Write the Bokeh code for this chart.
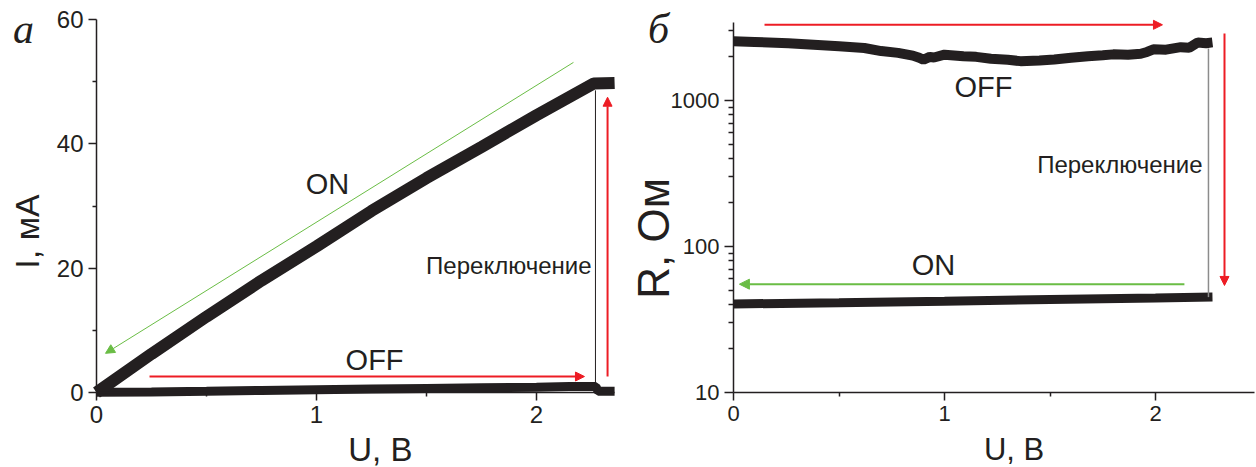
import math
from bokeh.plotting import figure
from bokeh.layouts import row
from bokeh.models import Range1d, FixedTicker, Label, Arrow, NormalHead, BasicTickFormatter
from bokeh.embed import file_html
from bokeh.resources import INLINE

# ---------------- data ----------------
u_on_iv = [0, 0.25, 0.5, 0.75, 1.0, 1.25, 1.5, 1.75, 2.0, 2.26, 2.355]
i_on_iv = [0, 6.2, 12.2, 18.0, 23.5, 29.2, 34.5, 39.5, 44.6, 49.7, 49.8]
u_off_iv = [0, 0.25, 0.5, 0.75, 1.0, 1.25, 1.5, 1.75, 2.0, 2.15, 2.27, 2.28, 2.355]
i_off_iv = [0.05, 0.1, 0.2, 0.33, 0.45, 0.55, 0.65, 0.75, 0.85, 0.95, 0.95, 0.2, 0.2]

u_on_r = [0, 0.5, 1.0, 1.5, 2.0, 2.27]
r_on = [40.4, 41.2, 42.2, 43.3, 44.4, 45.1]
u_off_r = [0, 0.1, 0.26, 0.4, 0.5, 0.62, 0.7, 0.78, 0.85, 0.88, 0.9, 0.93, 0.95,
           1.0, 1.09, 1.15, 1.22, 1.3, 1.36, 1.45, 1.52, 1.6, 1.68, 1.75, 1.8,
           1.87, 1.93, 1.96, 1.99, 2.05, 2.12, 2.16, 2.2, 2.24, 2.27]
r_off = [2550, 2520, 2470, 2400, 2350, 2290, 2180, 2120, 2030, 1960, 1900, 1990, 1970,
         2060, 2010, 1990, 1930, 1900, 1860, 1880, 1910, 1960, 2010, 2040, 2070,
         2060, 2090, 2150, 2240, 2230, 2320, 2300, 2500, 2470, 2500]

x_ticks = [0, 1, 2]
x_minor = [0.5, 1.5]
i_ticks = [0, 20, 40, 60]
i_minor = [10, 30, 50]
r_ticks = [10, 100, 1000]
r_minor = [20, 30, 40, 50, 60, 70, 80, 90, 200, 300, 400, 500, 600, 700, 800, 900, 2000, 3000]

INK = "#231f20"
RED = "#ed1c24"
GREEN = "#6abd45"
GRAY = "#8c8c8c"
FONT = "Liberation Sans"
SERIF = "Liberation Serif"


def style(p, tick_px):
    p.xgrid.visible = False
    p.ygrid.visible = False
    p.outline_line_color = None
    for ax in (p.xaxis[0], p.yaxis[0]):
        ax.axis_line_color = INK
        ax.axis_line_width = 1.5
        ax.major_tick_line_color = INK
        ax.major_tick_line_width = 1.5
        ax.minor_tick_line_color = INK
        ax.minor_tick_line_width = 1.5
        ax.major_tick_out = 8
        ax.major_tick_in = 0
        ax.minor_tick_out = 4
        ax.minor_tick_in = 0
        ax.major_label_text_font = FONT
        ax.major_label_text_font_size = tick_px
        ax.major_label_text_color = INK
        ax.major_label_standoff = 5
        ax.formatter = BasicTickFormatter(use_scientific=False)


def lab(p, x, y, text, size, align="center", angle=0.0, font=FONT, style_="normal"):
    p.add_layout(Label(x=x, y=y, text=text, text_font=font, text_font_size=size,
                       text_align=align, text_baseline="middle", angle=angle,
                       text_color=INK, text_font_style=style_))


def arrow(p, xs, ys, xe, ye, color, width, head):
    p.add_layout(Arrow(end=NormalHead(size=head, fill_color=color, line_color=color, line_width=1),
                       x_start=xs, y_start=ys, x_end=xe, y_end=ye,
                       line_color=color, line_width=width))


H = 467
# ---------------- panel а ----------------
X0_1, Y0_1 = 96, 392          # pixel of the origin (0, 0)
SX1 = 220.0                   # px per volt
SY1 = 373 / 60                # px per mA
W1 = 634
p1 = figure(width=W1, height=H, output_backend="svg", toolbar_location=None,
            x_range=Range1d(-X0_1 / SX1, (W1 - X0_1) / SX1),
            y_range=Range1d((Y0_1 - H) / SY1, Y0_1 / SY1),
            min_border=0)
style(p1, "24px")
p1.xaxis.ticker = FixedTicker(ticks=x_ticks, minor_ticks=x_minor)
p1.yaxis.ticker = FixedTicker(ticks=i_ticks, minor_ticks=i_minor)
p1.xaxis.fixed_location = 0
p1.yaxis.fixed_location = 0
p1.xaxis.bounds = (0, 518 / SX1)
p1.yaxis.bounds = (0, 60)

p1.line(u_off_iv, i_off_iv, line_color=INK, line_width=9)
p1.line(u_on_iv, i_on_iv, line_color=INK, line_width=12)
p1.segment(x0=[2.268], y0=[1.45], x1=[2.268], y1=[48.6], line_color=INK, line_width=1)
arrow(p1, 2.168, 53.1, 0.041, 6.3, GREEN, 1, 9)
arrow(p1, 0.241, 2.57, 2.218, 2.57, RED, 2, 9)
arrow(p1, 2.323, 2.57, 2.323, 47.5, RED, 2, 9)

lab(p1, 1.05, 33.46, "ON", "29px")
lab(p1, 1.264, 5.15, "OFF", "29px")
lab(p1, 2.25, 20.5, "Переключение", "24px", align="right")
lab(p1, -0.332, 58.55, "а", "42px", font=SERIF, style_="italic")
lab(p1, -0.314, 25.9, "I, мА", "34px", angle=math.pi / 2)
lab(p1, 1.29, -9.17, "U, В", "33px")

# ---------------- panel б ----------------
X0_2, Y0_2 = 733 - W1, 392    # pixel of U=0, R=10 inside this figure
SX2 = 211.0                   # px per volt
SD2 = 146.0                   # px per decade
W2 = 1256 - W1
p2 = figure(width=W2, height=H, output_backend="svg", toolbar_location=None,
            y_axis_type="log",
            x_range=Range1d(-X0_2 / SX2, (W2 - X0_2) / SX2),
            y_range=Range1d(10 ** (1 - (H - Y0_2) / SD2), 10 ** (1 + Y0_2 / SD2)),
            min_border=0)
style(p2, "22px")
p2.xaxis.ticker = FixedTicker(ticks=x_ticks, minor_ticks=x_minor)
p2.yaxis.ticker = FixedTicker(ticks=r_ticks, minor_ticks=r_minor)
p2.yaxis.major_tick_out = 9
p2.yaxis.minor_tick_out = 5
p2.xaxis.fixed_location = 10
p2.yaxis.fixed_location = 0
p2.xaxis.bounds = (0, (W2 - X0_2 - 2) / SX2)
p2.yaxis.bounds = (10, 10 ** (1 + 370 / SD2))

p2.line(u_off_r, r_off, line_color=INK, line_width=10)
p2.line(u_on_r, r_on, line_color=INK, line_width=9)
p2.segment(x0=[2.251], y0=[45], x1=[2.251], y1=[2270], line_color=GRAY, line_width=1.5)
arrow(p2, 0.147, 3300, 2.033, 3300, RED, 2, 9)
arrow(p2, 2.327, 2880, 2.327, 54.1, RED, 2, 9)
arrow(p2, 2.137, 55.2, 0.028, 55.2, GREEN, 2, 10)

lab(p2, 0.948, 74.6, "ON", "29px")
lab(p2, 1.185, 1247, "OFF", "29px")
lab(p2, 2.223, 367, "Переключение", "24px", align="right")
lab(p2, -0.355, 3112, "б", "42px", font=SERIF, style_="italic")
lab(p2, -0.379, 113.5, "R, Ом", "44px", angle=math.pi / 2)
lab(p2, 1.33, 10 ** (1 - 57 / SD2), "U, В", "31px")

layout = row(p1, p2)
open("out.html", "w").write(file_html(layout, INLINE))
